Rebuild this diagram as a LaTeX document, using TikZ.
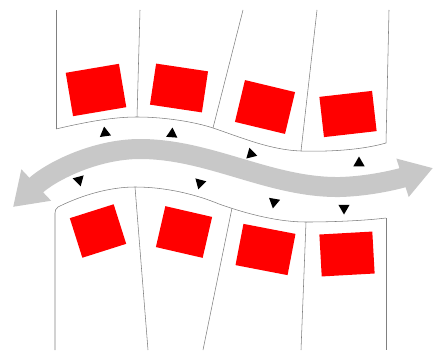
\documentclass[tikz,border=0pt]{standalone}
\usetikzlibrary{arrows.meta,shapes.geometric}
\definecolor{redsq}{RGB}{255,0,0}
\definecolor{bandgray}{RGB}{200,200,200}
\tikzset{
  plotline/.style={draw=black!50, line width=0.55pt},
  redbox/.style={fill=redsq, draw=none, inner sep=0pt, minimum width=#1, minimum height=42pt},
  tri/.style={regular polygon, regular polygon sides=3, fill=black, draw=none, inner sep=0pt, minimum size=13pt},
  band/.style={draw=bandgray, line width=20pt,
    {Triangle[width=41pt,length=32pt]}-{Triangle[width=38pt,length=32pt]}}
}
\begin{document}
\begin{tikzpicture}[x=1pt,y=-1pt]
\useasboundingbox (0,0) rectangle (438,350);
% upper plots
\draw[plotline] (56,10) -- (56,129);
\draw[plotline] (140,10) -- (137,117);
\draw[plotline] (243,10) -- (213,128);
\draw[plotline] (317,10) -- (301,151);
\draw[plotline] (389,10) -- (386,143);
\draw[plotline] (56,129) .. controls (90,121) and (115,117) .. (137,117)
  .. controls (165,117) and (195,122) .. (213,128)
  .. controls (240,137) and (270,150) .. (301,151)
  .. controls (335,152) and (365,149) .. (386,143);
% lower plots
\draw[plotline] (55,350) -- (55,213) .. controls (55,210) and (56,209) .. (58,207)
  .. controls (82,195) and (110,187) .. (135,187)
  .. controls (165,187) and (195,194) .. (219,204)
  .. controls (250,215) and (280,222) .. (306,222)
  .. controls (340,222) and (370,220) .. (386,218);
\draw[plotline] (135,187) -- (148,350);
\draw[plotline] (232,208) -- (203,350);
\draw[plotline] (306,222) -- (301,350);
\draw[plotline] (386,218) -- (386,350);
% squares
\node[redbox=54pt, minimum height=44pt, rotate=9.6] (s1) at (96,90) {};
\node[redbox=52.5pt, minimum height=41.5pt, rotate=-8.5] (s2) at (179,88) {};
\node[redbox=51.5pt, minimum height=43pt, rotate=-13.5] (s3) at (265,107) {};
\node[redbox=53pt, minimum height=40.5pt, rotate=6.5] (s4) at (348,114) {};
\node[redbox=46pt, minimum height=41.5pt, rotate=17.6] (s5) at (98,231) {};
\node[redbox=48pt, minimum height=42pt, rotate=-13] (s6) at (184,232) {};
\node[redbox=53pt, minimum height=42pt, rotate=-10.9] (s7) at (265.5,249.5) {};
\node[redbox=53pt, minimum height=42pt, rotate=3.2] (s8) at (347,254) {};
% big double arrow
\coordinate (aL) at (13,207);
\coordinate (aR) at (433,168);
\draw[band] (aL) .. controls (50,172) and (95,149) .. (140,149)
  .. controls (210,149) and (270,188) .. (340,187)
  .. controls (375,186) and (405,177) .. (aR);
% small triangles
\node[tri, rotate=8] (t1) at (105,133) {};
\node[tri, rotate=-4] (t2) at (172,134) {};
\node[tri, rotate=14] (t3) at (251,154) {};
\node[tri, rotate=0] (t4) at (359,163) {};
\node[tri, rotate=195] (t5) at (79,180) {};
\node[tri, rotate=165] (t6) at (200,183) {};
\node[tri, rotate=170] (t7) at (274,202) {};
\node[tri, rotate=180] (t8) at (344,208) {};
\end{tikzpicture}
\end{document}
